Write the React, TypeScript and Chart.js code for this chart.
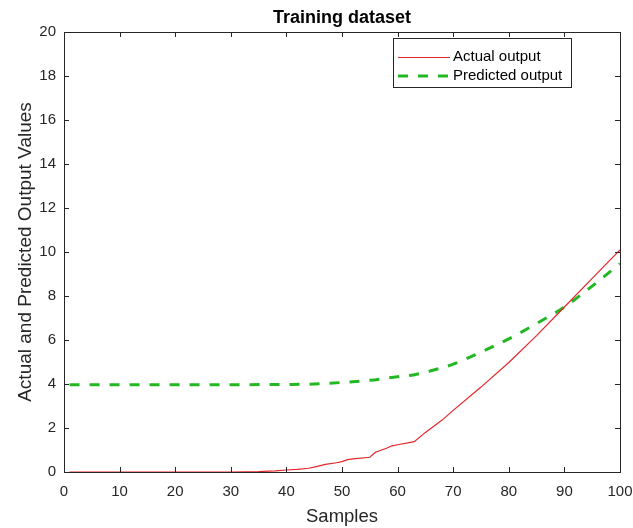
import React, { useEffect, useRef } from "react";
import { Chart, registerables } from "chart.js";

Chart.register(...registerables);

// Sample index breakpoints and values for the measured (actual) output
const actualSamples = [1, 10, 20, 30, 35, 38, 40, 42, 44, 45, 47, 49, 50, 51, 52, 55, 56, 58, 59, 60, 63, 65, 68, 70, 75, 80, 85, 90, 95, 100];
const actualValues = [0, 0, 0, 0, 0.02, 0.05, 0.09, 0.12, 0.17, 0.22, 0.35, 0.42, 0.47, 0.56, 0.6, 0.67, 0.9, 1.08, 1.19, 1.24, 1.38, 1.8, 2.36, 2.8, 3.86, 4.98, 6.2, 7.5, 8.8, 10.1];

// Sample index breakpoints and values for the model prediction
const predictedSamples = [1, 10, 20, 30, 40, 45, 50, 55, 60, 63, 66, 70, 75, 80, 85, 90, 95, 100];
const predictedValues = [3.97, 3.97, 3.97, 3.97, 3.98, 4.0, 4.07, 4.17, 4.33, 4.42, 4.6, 4.9, 5.45, 6.05, 6.75, 7.5, 8.45, 9.47];

const xTicks = [0, 10, 20, 30, 40, 50, 60, 70, 80, 90, 100];
const yTicks = [0, 2, 4, 6, 8, 10, 12, 14, 16, 18, 20];

const chartTitle = "Training dataset";
const xLabel = "Samples";
const yLabel = "Actual and Predicted Output Values";
const seriesNames = ["Actual output", "Predicted output"];

const INK = "#262626";
const RED = "#e4262a";
const GREEN = "#22b822";
const FONT = "'Liberation Sans', Arial, sans-serif";

const framePlugin = {
  id: "framePlugin",
  afterDraw(chart: any) {
    const ctx = chart.ctx as CanvasRenderingContext2D;
    const { left, right, top, bottom } = chart.chartArea;
    const xs = chart.scales.x;
    const ys = chart.scales.y;
    ctx.save();

    // axes box
    ctx.strokeStyle = INK;
    ctx.lineWidth = 1;
    ctx.setLineDash([]);
    ctx.strokeRect(Math.round(left) + 0.5, Math.round(top) + 0.5, Math.round(right - left), Math.round(bottom - top));

    // inward ticks on all four sides
    const tl = 5;
    ctx.beginPath();
    for (const v of xTicks) {
      const px = Math.round(xs.getPixelForValue(v)) + 0.5;
      ctx.moveTo(px, bottom);
      ctx.lineTo(px, bottom - tl);
      ctx.moveTo(px, top);
      ctx.lineTo(px, top + tl);
    }
    for (const v of yTicks) {
      const py = Math.round(ys.getPixelForValue(v)) + 0.5;
      ctx.moveTo(left, py);
      ctx.lineTo(left + tl, py);
      ctx.moveTo(right, py);
      ctx.lineTo(right - tl, py);
    }
    ctx.stroke();

    // title
    ctx.fillStyle = "#000";
    ctx.font = `bold 18px ${FONT}`;
    ctx.textAlign = "center";
    ctx.textBaseline = "alphabetic";
    ctx.fillText(chartTitle, (left + right) / 2, 23);

    // axis labels
    ctx.fillStyle = INK;
    ctx.font = `18.5px ${FONT}`;
    ctx.fillText(xLabel, (left + right) / 2, 522);
    ctx.save();
    ctx.translate(31, (top + bottom) / 2);
    ctx.rotate(-Math.PI / 2);
    ctx.font = `19px ${FONT}`;
    ctx.fillText(yLabel, 0, 0);
    ctx.restore();

    // legend
    const lx = 393, ly = 38, lw = 178, lh = 49;
    ctx.fillStyle = "#fff";
    ctx.fillRect(lx, ly, lw, lh);
    ctx.strokeStyle = INK;
    ctx.lineWidth = 1;
    ctx.strokeRect(lx + 0.5, ly + 0.5, lw, lh);
    const rows = [57, 76];
    ctx.strokeStyle = RED;
    ctx.lineWidth = 1.2;
    ctx.beginPath();
    ctx.moveTo(398, rows[0] + 0.5);
    ctx.lineTo(450, rows[0] + 0.5);
    ctx.stroke();
    ctx.strokeStyle = GREEN;
    ctx.lineWidth = 3;
    ctx.setLineDash([10, 10]);
    ctx.beginPath();
    ctx.moveTo(398, rows[1]);
    ctx.lineTo(450, rows[1]);
    ctx.stroke();
    ctx.setLineDash([]);
    ctx.fillStyle = "#000";
    ctx.font = `15px ${FONT}`;
    ctx.textAlign = "left";
    ctx.textBaseline = "middle";
    ctx.fillText(seriesNames[0], 453, rows[0]);
    ctx.fillText(seriesNames[1], 453, rows[1]);

    ctx.restore();
  },
};

export default function App() {
  const canvasRef = useRef<HTMLCanvasElement | null>(null);

  useEffect(() => {
    if (!canvasRef.current) return;
    const chart = new Chart(canvasRef.current, {
      type: "line",
      data: {
        datasets: [
          {
            label: seriesNames[0],
            data: actualSamples.map((s, i) => ({ x: s, y: actualValues[i] })),
            borderColor: RED,
            borderWidth: 1.2,
            pointRadius: 0,
            tension: 0,
            fill: false,
          },
          {
            label: seriesNames[1],
            data: predictedSamples.map((s, i) => ({ x: s, y: predictedValues[i] })),
            borderColor: GREEN,
            borderWidth: 3,
            borderDash: [10, 10],
            pointRadius: 0,
            cubicInterpolationMode: "monotone",
            fill: false,
          },
        ],
      },
      options: {
        responsive: false,
        animation: false,
        layout: { padding: { top: 32, right: 13, left: 0, bottom: 0 } },
        plugins: {
          legend: { display: false },
          title: { display: false },
          tooltip: { enabled: false },
        },
        scales: {
          x: {
            type: "linear",
            min: 0,
            max: 100,
            afterBuildTicks: (scale: any) => {
              scale.ticks = xTicks.map((v) => ({ value: v }));
            },
            afterFit: (scale: any) => {
              scale.height = 56;
              scale.paddingLeft = 0;
              scale.paddingRight = 0;
            },
            grid: { display: false, drawTicks: false },
            border: { display: false },
            ticks: {
              padding: 11,
              maxRotation: 0,
              autoSkip: false,
              color: INK,
              font: { family: FONT, size: 15 },
            },
          },
          y: {
            type: "linear",
            min: 0,
            max: 20,
            afterBuildTicks: (scale: any) => {
              scale.ticks = yTicks.map((v) => ({ value: v }));
            },
            afterFit: (scale: any) => {
              scale.width = 64;
              scale.paddingTop = 0;
              scale.paddingBottom = 0;
            },
            grid: { display: false, drawTicks: false },
            border: { display: false },
            ticks: {
              padding: 8,
              autoSkip: false,
              color: INK,
              font: { family: FONT, size: 15 },
            },
          },
        },
      },
      plugins: [framePlugin],
    } as any);
    return () => chart.destroy();
  }, []);

  return (
    <div style={{ position: "fixed", left: 0, top: 0, width: 633, height: 528, background: "#fff" }}>
      <canvas ref={canvasRef} width={633} height={528} />
    </div>
  );
}
